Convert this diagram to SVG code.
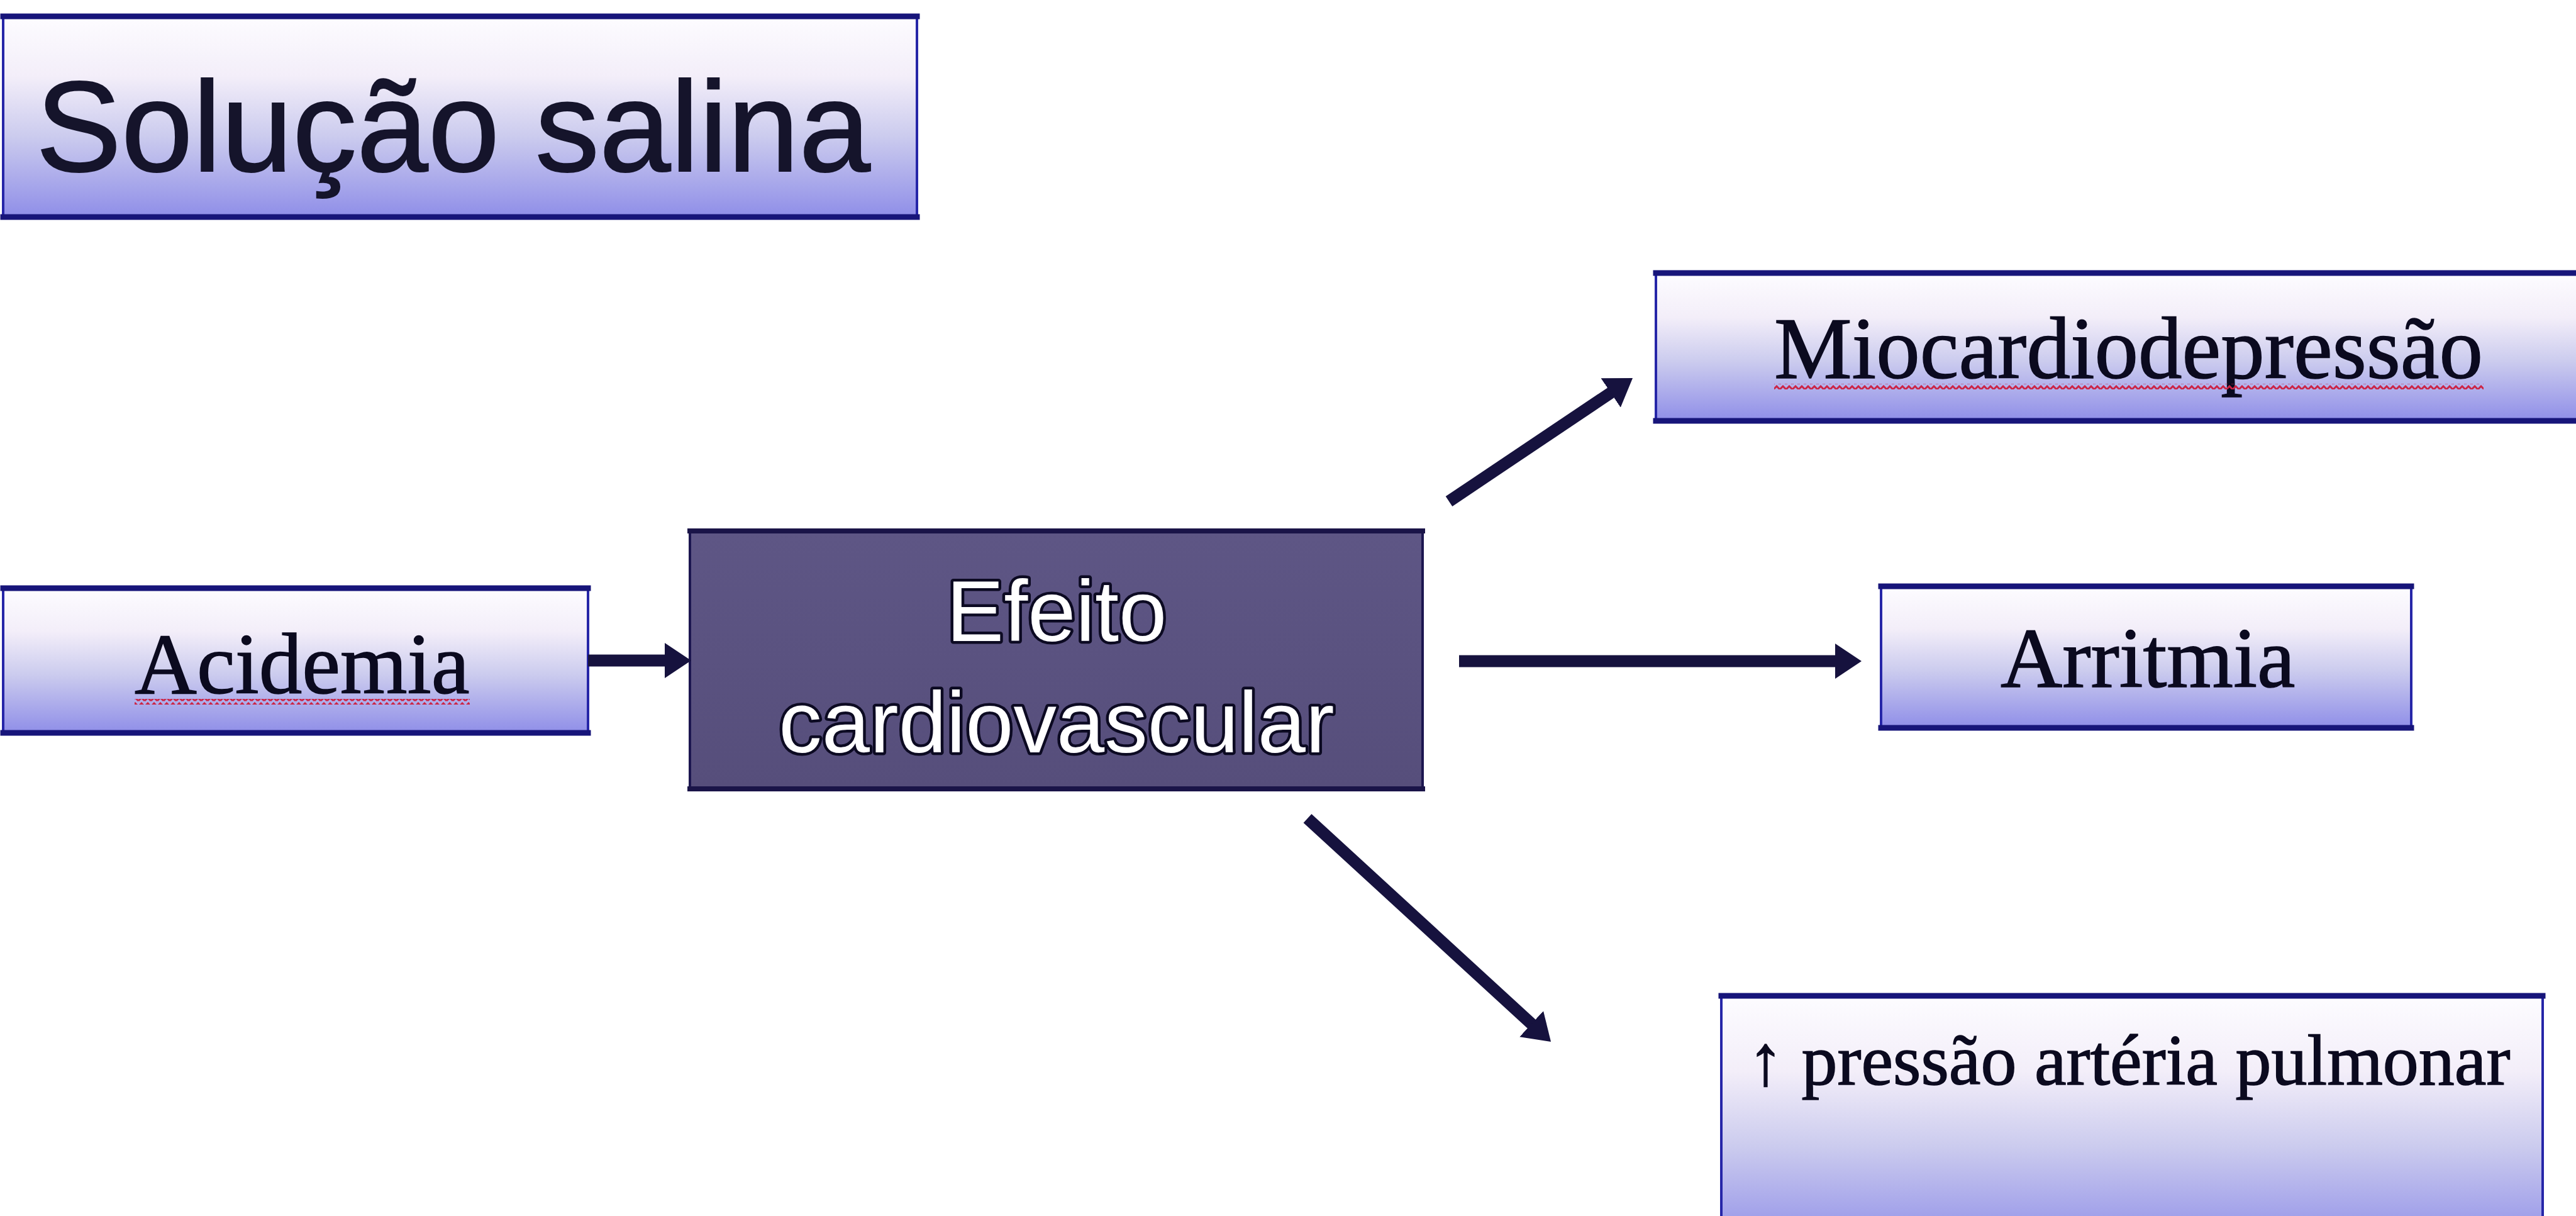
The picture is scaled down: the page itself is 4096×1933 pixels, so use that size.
<svg xmlns="http://www.w3.org/2000/svg" width="4096" height="1933" viewBox="0 0 4096 1933">
<defs>
<linearGradient id="lightFill" x1="0" y1="0" x2="0" y2="1">
<stop offset="0" stop-color="#fdfcff"/>
<stop offset="0.3" stop-color="#f3eef9"/>
<stop offset="0.6" stop-color="#cbcbee"/>
<stop offset="1" stop-color="#8f8ee8"/>
</linearGradient>
<linearGradient id="darkFill" x1="0" y1="0" x2="0" y2="1">
<stop offset="0" stop-color="#5e5685"/>
<stop offset="1" stop-color="#564e7b"/>
</linearGradient>
<pattern id="wavy" patternUnits="userSpaceOnUse" width="10" height="9">
<path d="M0,7 L5,2 L10,7" fill="none" stroke="#cc2445" stroke-width="3"/>
</pattern>
<marker id="head" markerUnits="userSpaceOnUse" markerWidth="44" markerHeight="58" refX="14" refY="29" orient="auto">
<path d="M0,1 L42,29 L0,57 z" fill="#16123e"/>
</marker>
<style>
.lbox{fill:url(#lightFill);stroke:#2626a8;stroke-width:4}
.dbox{fill:url(#darkFill);stroke:#1c1650;stroke-width:4}
.edge{stroke:#17157a;stroke-width:9;stroke-linecap:square}
.dedge{stroke:#1a1448;stroke-width:8;stroke-linecap:square}
.serif{font-family:"Liberation Serif","Times New Roman",serif;fill:#0b0a1f;stroke:#0b0a1f;stroke-width:1.5}
.sans{font-family:"Liberation Sans",Arial,sans-serif}
.title{fill:#15142b;stroke:#15142b;stroke-width:2}
.white{fill:#ffffff;stroke:#0c0a22;stroke-width:9;paint-order:stroke;stroke-linejoin:round}
.arrow{stroke:#16123e;stroke-width:19;fill:none;marker-end:url(#head)}
.wave{fill:url(#wavy)}
</style>
</defs>
<rect width="4096" height="1933" fill="#ffffff"/>

<g id="title">
<rect class="lbox" x="5" y="26" width="1453" height="319"/>
<line class="edge" x1="5" y1="26" x2="1458" y2="26"/>
<line class="edge" x1="5" y1="345" x2="1458" y2="345"/>
<text class="sans title" x="57" y="272" font-size="204">Solução salina</text>
</g>

<g id="miocardiodepressao">
<rect class="lbox" x="2633" y="434" width="1500" height="235"/>
<line class="edge" x1="2633" y1="434" x2="4120" y2="434"/>
<line class="edge" x1="2633" y1="669" x2="4120" y2="669"/>
<text class="serif" x="2821" y="601" font-size="139">Miocardiodepressão</text>
<rect class="wave" x="2821" y="610" width="1128" height="9"/>
</g>

<g id="acidemia">
<rect class="lbox" x="5" y="935" width="930" height="230"/>
<line class="edge" x1="5" y1="935" x2="935" y2="935"/>
<line class="edge" x1="5" y1="1165" x2="935" y2="1165"/>
<text class="serif" x="214" y="1102" font-size="137">Acidemia</text>
<rect class="wave" x="214" y="1111" width="533" height="9"/>
</g>

<g id="efeito">
<rect class="dbox" x="1097" y="844" width="1165" height="410"/>
<line class="dedge" x1="1097" y1="844" x2="2262" y2="844"/>
<line class="dedge" x1="1097" y1="1254" x2="2262" y2="1254"/>
<text class="sans white" x="1680" y="1019" font-size="137" text-anchor="middle">Efeito</text>
<text class="sans white" x="1680" y="1196" font-size="137" text-anchor="middle">cardiovascular</text>
</g>

<g id="arritmia">
<rect class="lbox" x="2991" y="932" width="843" height="225"/>
<line class="edge" x1="2991" y1="932" x2="3834" y2="932"/>
<line class="edge" x1="2991" y1="1157" x2="3834" y2="1157"/>
<text class="serif" x="3181" y="1092" font-size="136">Arritmia</text>
</g>

<g id="pressao">
<rect class="lbox" x="2737" y="1583" width="1306" height="400"/>
<line class="edge" x1="2737" y1="1583" x2="4043" y2="1583"/>
<text class="serif" x="2779" y="1724" font-size="114">↑ pressão artéria pulmonar</text>
</g>

<g id="connectors">
<line class="arrow" x1="935" y1="1050" x2="1071" y2="1050"/>
<line class="arrow" x1="2320" y1="1051" x2="2932" y2="1051"/>
<line class="arrow" x1="2304" y1="797" x2="2572.8" y2="616.6"/>
<line class="arrow" x1="2079" y1="1301" x2="2445.4" y2="1637.1"/>
</g>
</svg>
